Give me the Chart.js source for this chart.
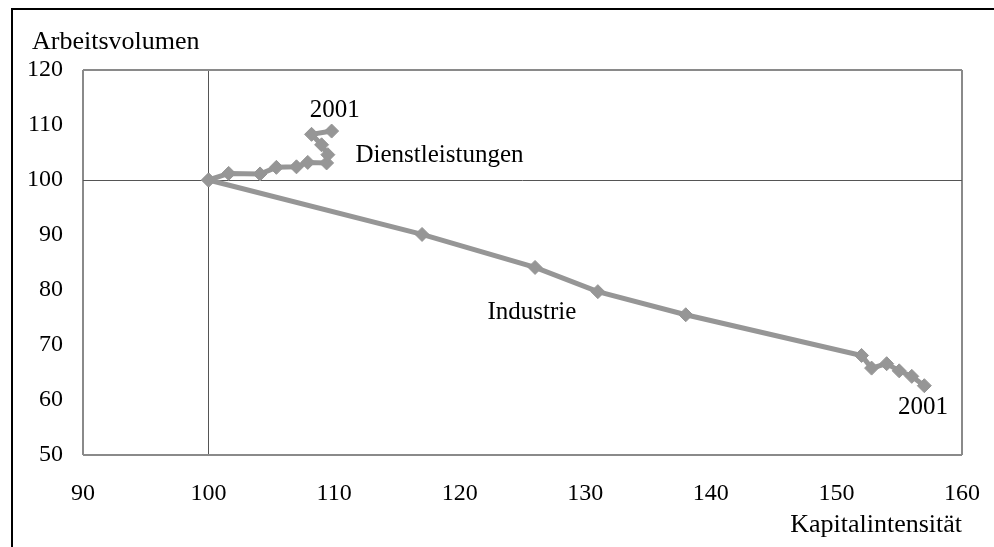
<!DOCTYPE html>
<html>
<head>
<meta charset="utf-8">
<script src="https://cdn.jsdelivr.net/npm/chart.js@4/dist/chart.umd.min.js"></script>
<style>
  html, body { margin: 0; padding: 0; background: #fff; }
  #wrap { width: 994px; height: 547px; position: relative; }
</style>
</head>
<body>
<div id="wrap"><canvas id="kapitalChart"></canvas></div>
<script>
// Kapitalintensität (x) vs. Arbeitsvolumen (y), index 100 = start year
const industrieX = [100, 117, 126, 131, 138, 152, 152.8, 154, 155, 156, 157];
const industrieY = [100, 90.1, 84.1, 79.7, 75.5, 68.1, 65.8, 66.6, 65.3, 64.3, 62.6];

const dienstX = [100, 101.6, 104.1, 105.4, 107, 107.9, 109.4, 109.5, 109, 108.2, 109.8];
const dienstY = [100, 101.2, 101.1, 102.3, 102.4, 103.2, 103.1, 104.6, 106.4, 108.3, 108.9];

const xTicks = [90, 100, 110, 120, 130, 140, 150, 160];
const yTicks = [50, 60, 70, 80, 90, 100, 110, 120];

// text labels placed at data coordinates
const notes = [
    { text: '2001', x: 110.05, y: 112.7, align: 'center' },
    { text: 'Dienstleistungen', x: 111.7, y: 104.5, align: 'left' },
    { text: 'Industrie', x: 125.75, y: 76, align: 'center' },
    { text: '2001', x: 156.9, y: 58.7, align: 'center' }
];

const serif = "'Liberation Serif', 'Times New Roman', serif";
const lineGray = '#969696';

function toPoints(xs, ys) {
    return xs.map((x, i) => ({ x: x, y: ys[i] }));
}

function gridColor(ctx, lo, hi) {
    const v = ctx.tick ? ctx.tick.value : null;
    if (v === 100) return '#555555';
    if (v === lo || v === hi) return '#8a8a8a';
    return 'rgba(0,0,0,0)';
}
function gridWidth(ctx, lo, hi) {
    const v = ctx.tick ? ctx.tick.value : null;
    if (v === lo || v === hi) return 2;
    return 1;
}

const extras = {
    id: 'extras',
    beforeDraw(chart) {
        const c = chart.ctx;
        c.save();
        c.fillStyle = '#ffffff';
        c.fillRect(0, 0, chart.width, chart.height);
        // outer frame
        c.strokeStyle = '#000000';
        c.lineWidth = 2;
        c.beginPath();
        c.moveTo(12, chart.height);
        c.lineTo(12, 9);
        c.lineTo(chart.width, 9);
        c.stroke();
        c.restore();
    },
    afterDraw(chart) {
        const c = chart.ctx;
        const xs = chart.scales.x, ys = chart.scales.y;
        const area = chart.chartArea;
        c.save();
        c.fillStyle = '#000000';
        c.font = '26px ' + serif;
        c.textBaseline = 'middle';
        c.textAlign = 'left';
        c.fillText('Arbeitsvolumen', 32, 42);
        c.textAlign = 'right';
        c.fillText('Kapitalintensität', area.right, 525);
        c.font = '25px ' + serif;
        notes.forEach(n => {
            c.textAlign = n.align;
            c.fillText(n.text, xs.getPixelForValue(n.x), ys.getPixelForValue(n.y));
        });
        c.restore();
    }
};

const ctx = document.getElementById('kapitalChart').getContext('2d');

const kapitalChart = new Chart(ctx, {
    type: 'scatter',
    data: {
        datasets: [
            {
                label: 'Industrie',
                data: toPoints(industrieX, industrieY),
                showLine: true,
                borderColor: lineGray,
                backgroundColor: lineGray,
                borderWidth: 5,
                pointStyle: 'rectRot',
                pointRadius: 7,
                pointBorderWidth: 1,
                tension: 0
            },
            {
                label: 'Dienstleistungen',
                data: toPoints(dienstX, dienstY),
                showLine: true,
                borderColor: lineGray,
                backgroundColor: lineGray,
                borderWidth: 5,
                pointStyle: 'rectRot',
                pointRadius: 7,
                pointBorderWidth: 1,
                tension: 0
            }
        ]
    },
    options: {
        responsive: true,
        maintainAspectRatio: false,
        animation: false,
        events: [],
        layout: {
            padding: { top: 70, right: 32, left: 0, bottom: 0 }
        },
        plugins: {
            legend: { display: false },
            tooltip: { enabled: false }
        },
        scales: {
            x: {
                type: 'linear',
                min: xTicks[0],
                max: xTicks[xTicks.length - 1],
                afterBuildTicks: s => { s.ticks = xTicks.map(v => ({ value: v })); },
                afterFit: s => { s.height = 92; s.paddingLeft = 0; s.paddingRight = 0; },
                border: { display: false },
                grid: {
                    drawTicks: false,
                    color: c => gridColor(c, 90, 160),
                    lineWidth: c => gridWidth(c, 90, 160)
                },
                ticks: {
                    padding: 24,
                    maxRotation: 0,
                    color: '#000000',
                    font: { family: serif, size: 24 }
                }
            },
            y: {
                type: 'linear',
                min: yTicks[0],
                max: yTicks[yTicks.length - 1],
                afterBuildTicks: s => { s.ticks = yTicks.map(v => ({ value: v })); },
                afterFit: s => { s.width = 83; s.paddingTop = 0; s.paddingBottom = 0; },
                border: { display: false },
                grid: {
                    drawTicks: false,
                    color: c => gridColor(c, 50, 120),
                    lineWidth: c => gridWidth(c, 50, 120)
                },
                ticks: {
                    padding: 20,
                    color: '#000000',
                    font: { family: serif, size: 24 }
                }
            }
        }
    },
    plugins: [extras]
});
</script>
</body>
</html>
